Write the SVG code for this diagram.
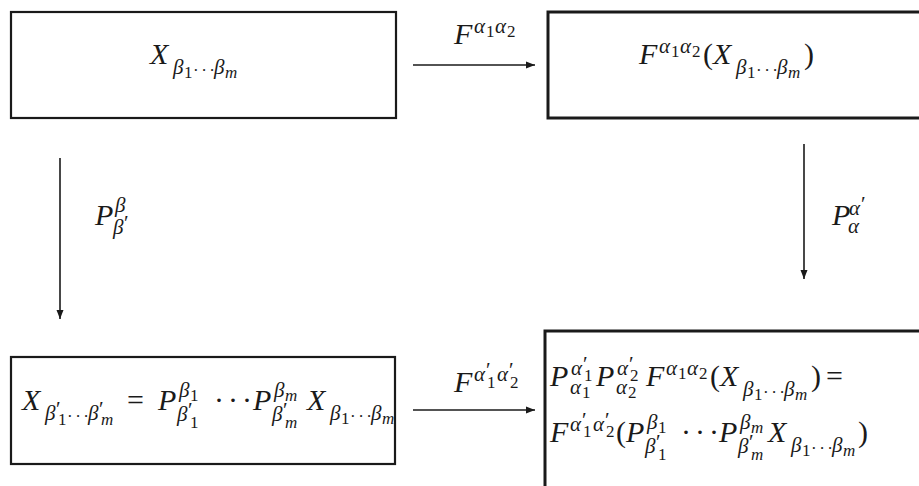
<svg xmlns="http://www.w3.org/2000/svg" width="919" height="486" viewBox="0 0 919 486">
<style>
.box{fill:none;stroke:#1a1a1a;stroke-width:2.2}
.boxb{fill:none;stroke:#1a1a1a;stroke-width:3}
.conn{stroke:#1a1a1a;stroke-width:1.6;fill:none}
text{font-family:"Liberation Serif",serif;fill:#1a1a1a}
.i{font-style:italic}
.M{font-size:30px}
.S{font-size:21px}
.T{font-size:17px}
.d{letter-spacing:2.5px}
.D{letter-spacing:4px}
</style>
<defs>
<marker id="ah" markerUnits="userSpaceOnUse" markerWidth="10" markerHeight="8" refX="9" refY="4" orient="auto">
<path d="M0,0.5 L9,4 L0,7.5 z" fill="#1a1a1a"/>
</marker>
</defs>
<g id="connectors">
<line class="conn" x1="413" y1="65" x2="535" y2="65" marker-end="url(#ah)"/>
<line class="conn" x1="60" y1="158" x2="60" y2="319" marker-end="url(#ah)"/>
<line class="conn" x1="804" y1="144" x2="804" y2="279" marker-end="url(#ah)"/>
<line class="conn" x1="413" y1="410" x2="535" y2="410" marker-end="url(#ah)"/>
<text><tspan class="i M" x="454" y="44">F</tspan><tspan class="i S" x="474" y="33">α</tspan><tspan class="T" x="486" y="37">1</tspan><tspan class="i S" x="495" y="33">α</tspan><tspan class="T" x="507" y="37">2</tspan></text>
<text><tspan class="i M" x="95" y="225">P</tspan><tspan class="i S" x="115" y="212">β</tspan><tspan class="i S" x="113" y="234">β</tspan><tspan class="S" x="124" y="230">′</tspan></text>
<text><tspan class="i M" x="832" y="225">P</tspan><tspan class="i S" x="849" y="215">α</tspan><tspan class="S" x="861" y="211">′</tspan><tspan class="i S" x="848" y="233">α</tspan></text>
<text><tspan class="i M" x="454" y="392">F</tspan><tspan class="i S" x="474" y="381">α</tspan><tspan class="S" x="486" y="377">′</tspan><tspan class="T" x="487" y="388">1</tspan><tspan class="i S" x="497" y="381">α</tspan><tspan class="S" x="509" y="377">′</tspan><tspan class="T" x="510" y="388">2</tspan></text>
</g>
<g id="node-x">
<rect class="box" x="11" y="12" width="385" height="106"/>
<text><tspan class="i M" x="150" y="64">X</tspan><tspan class="i S" x="173" y="74">β</tspan><tspan class="T" x="184" y="78">1</tspan><tspan class="T d" x="193" y="76">···</tspan><tspan class="i S" x="214" y="74">β</tspan><tspan class="i T" x="225" y="78">m</tspan></text>
</g>
<g id="node-fx">
<rect class="boxb" x="548" y="12" width="380" height="106"/>
<text><tspan class="i M" x="639" y="64">F</tspan><tspan class="i S" x="659" y="53">α</tspan><tspan class="T" x="671" y="57">1</tspan><tspan class="i S" x="680" y="53">α</tspan><tspan class="T" x="692" y="57">2</tspan><tspan class="M" x="703" y="64">(</tspan><tspan class="i M" x="713" y="64">X</tspan><tspan class="i S" x="736" y="74">β</tspan><tspan class="T" x="747" y="78">1</tspan><tspan class="T d" x="756" y="76">···</tspan><tspan class="i S" x="777" y="74">β</tspan><tspan class="i T" x="788" y="78">m</tspan><tspan class="M" x="804" y="64">)</tspan></text>
</g>
<g id="node-xprime">
<rect class="box" x="11" y="357" width="384" height="107"/>
<text><tspan class="i M" x="22" y="410">X</tspan><tspan class="i S" x="45" y="420">β</tspan><tspan class="S" x="56" y="416">′</tspan><tspan class="T" x="58" y="425">1</tspan><tspan class="T d" x="67" y="422">···</tspan><tspan class="i S" x="88" y="420">β</tspan><tspan class="S" x="99" y="416">′</tspan><tspan class="i T" x="101" y="425">m</tspan><tspan class="M" x="127" y="410">=</tspan><tspan class="i M" x="158" y="410">P</tspan><tspan class="i S" x="179" y="397">β</tspan><tspan class="T" x="190" y="401">1</tspan><tspan class="i S" x="177" y="421">β</tspan><tspan class="S" x="188" y="417">′</tspan><tspan class="T" x="190" y="428">1</tspan><tspan class="M D" x="214" y="410">···</tspan><tspan class="i M" x="253" y="410">P</tspan><tspan class="i S" x="274" y="397">β</tspan><tspan class="i T" x="285" y="401">m</tspan><tspan class="i S" x="272" y="421">β</tspan><tspan class="S" x="283" y="417">′</tspan><tspan class="i T" x="285" y="428">m</tspan><tspan class="i M" x="307" y="410">X</tspan><tspan class="i S" x="330" y="420">β</tspan><tspan class="T" x="341" y="424">1</tspan><tspan class="T d" x="350" y="422">···</tspan><tspan class="i S" x="371" y="420">β</tspan><tspan class="i T" x="382" y="424">m</tspan></text>
</g>
<g id="node-result">
<rect class="boxb" x="545" y="331" width="390" height="170"/>
<text><tspan class="i M" x="550" y="386">P</tspan><tspan class="i S" x="571" y="375">α</tspan><tspan class="S" x="583" y="371">′</tspan><tspan class="T" x="584" y="381">1</tspan><tspan class="i S" x="570" y="394">α</tspan><tspan class="T" x="582" y="398">1</tspan><tspan class="i M" x="596" y="386">P</tspan><tspan class="i S" x="617" y="375">α</tspan><tspan class="S" x="629" y="371">′</tspan><tspan class="T" x="630" y="381">2</tspan><tspan class="i S" x="616" y="394">α</tspan><tspan class="T" x="628" y="398">2</tspan><tspan class="i M" x="646" y="386">F</tspan><tspan class="i S" x="666" y="375">α</tspan><tspan class="T" x="678" y="379">1</tspan><tspan class="i S" x="687" y="375">α</tspan><tspan class="T" x="699" y="379">2</tspan><tspan class="M" x="710" y="386">(</tspan><tspan class="i M" x="720" y="386">X</tspan><tspan class="i S" x="743" y="396">β</tspan><tspan class="T" x="754" y="400">1</tspan><tspan class="T d" x="763" y="398">···</tspan><tspan class="i S" x="784" y="396">β</tspan><tspan class="i T" x="795" y="400">m</tspan><tspan class="M" x="811" y="386">)</tspan><tspan class="M" x="826" y="386">=</tspan></text>
<text><tspan class="i M" x="550" y="442">F</tspan><tspan class="i S" x="570" y="431">α</tspan><tspan class="S" x="582" y="427">′</tspan><tspan class="T" x="583" y="437">1</tspan><tspan class="i S" x="593" y="431">α</tspan><tspan class="S" x="605" y="427">′</tspan><tspan class="T" x="606" y="437">2</tspan><tspan class="M" x="616" y="442">(</tspan><tspan class="i M" x="626" y="442">P</tspan><tspan class="i S" x="647" y="429">β</tspan><tspan class="T" x="658" y="433">1</tspan><tspan class="i S" x="645" y="453">β</tspan><tspan class="S" x="656" y="449">′</tspan><tspan class="T" x="658" y="460">1</tspan><tspan class="M D" x="681" y="442">···</tspan><tspan class="i M" x="719" y="442">P</tspan><tspan class="i S" x="740" y="429">β</tspan><tspan class="i T" x="751" y="433">m</tspan><tspan class="i S" x="738" y="453">β</tspan><tspan class="S" x="749" y="449">′</tspan><tspan class="i T" x="751" y="460">m</tspan><tspan class="i M" x="768" y="442">X</tspan><tspan class="i S" x="791" y="452">β</tspan><tspan class="T" x="802" y="456">1</tspan><tspan class="T d" x="811" y="454">···</tspan><tspan class="i S" x="832" y="452">β</tspan><tspan class="i T" x="843" y="456">m</tspan><tspan class="M" x="858" y="442">)</tspan></text>
</g>
</svg>
